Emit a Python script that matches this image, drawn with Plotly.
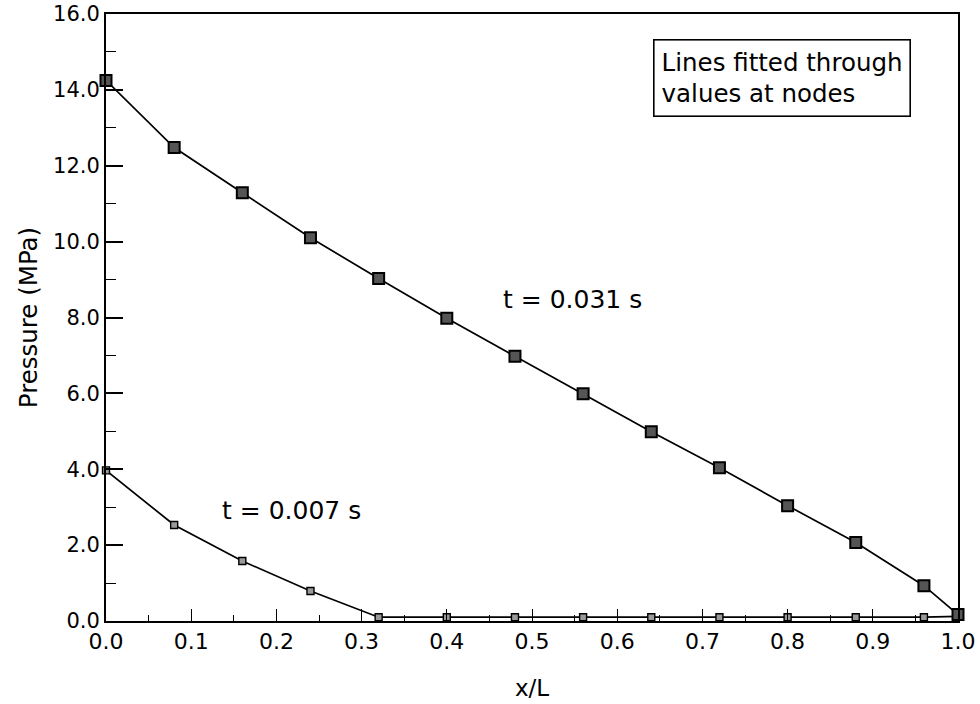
import plotly.graph_objects as go

# Node positions along the pipe (x/L)
x_nodes = [0.0, 0.08, 0.16, 0.24, 0.32, 0.40, 0.48, 0.56, 0.64, 0.72, 0.80, 0.88, 0.96, 1.0]

# Pressure at the nodes (MPa)
p_t031 = [14.25, 12.48, 11.29, 10.10, 9.03, 7.98, 6.98, 5.99, 4.99, 4.04, 3.04, 2.07, 0.93, 0.17]
p_t007 = [3.97, 2.53, 1.58, 0.79, 0.10, 0.10, 0.10, 0.10, 0.10, 0.10, 0.10, 0.10, 0.10, 0.12]

x_ticks = [0.0, 0.1, 0.2, 0.3, 0.4, 0.5, 0.6, 0.7, 0.8, 0.9, 1.0]
y_ticks = [0.0, 2.0, 4.0, 6.0, 8.0, 10.0, 12.0, 14.0, 16.0]

FONT = "DejaVu Sans, Verdana, sans-serif"

fig = go.Figure()
fig.add_trace(go.Scatter(
    x=x_nodes, y=p_t007, mode="lines+markers",
    line=dict(color="black", width=1.7),
    marker=dict(symbol="square", size=7, color="#999999",
                line=dict(color="black", width=1.4)),
    showlegend=False, cliponaxis=False,
))
fig.add_trace(go.Scatter(
    x=x_nodes, y=p_t031, mode="lines+markers",
    line=dict(color="black", width=1.7),
    marker=dict(symbol="square", size=11, color="#555555",
                line=dict(color="black", width=2)),
    showlegend=False, cliponaxis=False,
))

fig.add_annotation(x=0.548, y=8.47, text="t = 0.031 s", showarrow=False,
                   font=dict(size=25, color="black", family=FONT))
fig.add_annotation(x=0.218, y=2.9, text="t = 0.007 s", showarrow=False,
                   font=dict(size=25, color="black", family=FONT))
fig.add_annotation(x=0.642, y=15.33, xanchor="left", yanchor="top", align="left",
                   text="Lines fitted through<br>values at nodes", showarrow=False,
                   font=dict(size=24.5, color="black", family=FONT),
                   bordercolor="black", borderwidth=1.6, borderpad=7,
                   bgcolor="white")

fig.update_xaxes(
    range=[0, 1.0], tickvals=x_ticks, tickformat=".1f",
    ticks="inside", ticklen=12, tickwidth=1.3, tickcolor="black",
    minor=dict(dtick=0.05, ticks="inside", ticklen=6, tickcolor="black", tickwidth=1),
    showline=True, linecolor="black", linewidth=2, mirror=True,
    showgrid=False, zeroline=False, automargin=False,
    tickfont=dict(size=22, color="black", family=FONT),
    title=dict(text="x/L", font=dict(size=23, color="black", family=FONT), standoff=26),
)
fig.update_yaxes(
    range=[0, 16.0], tickvals=y_ticks, tickformat=".1f",
    ticks="inside", ticklen=17, tickwidth=1.5, tickcolor="black",
    minor=dict(dtick=1.0, ticks="inside", ticklen=10, tickcolor="black", tickwidth=1.3),
    showline=True, linecolor="black", linewidth=2, mirror=True,
    showgrid=False, zeroline=False, automargin=False,
    tickfont=dict(size=21, color="black", family=FONT),
    title=dict(text="Pressure (MPa)", font=dict(size=24.5, color="black", family=FONT), standoff=8),
)

fig.update_layout(
    width=980, height=704,
    margin=dict(l=106, r=22, t=14, b=83),
    paper_bgcolor="white", plot_bgcolor="white",
)

fig.write_html("out.html")
